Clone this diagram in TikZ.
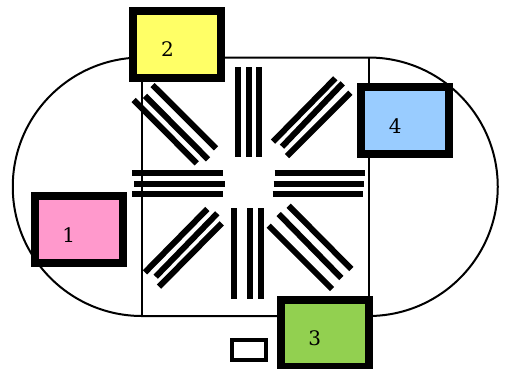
\documentclass[tikz,border=0pt]{standalone}
\usepackage{fontspec}
\setmainfont{DejaVu Serif}
\definecolor{cpink}{HTML}{FF99CC}
\definecolor{cyellow}{HTML}{FFFF66}
\definecolor{cgreen}{HTML}{92D050}
\definecolor{cblue}{HTML}{99CCFF}
\tikzset{
  track/.style={draw=black,line width=2pt},
  bar/.style={draw=black,line width=6pt},
  station/.style={draw=black,line width=8pt,minimum width=88pt,minimum height=67pt,inner sep=0pt,outer sep=0pt},
  num/.style={font=\fontsize{20}{20}\selectfont,inner sep=0pt},
  slot/.style={draw=black,fill=white,line width=3.7pt,inner sep=0pt,outer sep=0pt}
}
\begin{document}
\begin{tikzpicture}[x=1pt,y=-1pt]
\useasboundingbox (0,0) rectangle (505,368);
\clip (0,0) rectangle (505,368);
% track
\draw[track] (142,57.5) -- (368.5,57.5) arc[start angle=-90,end angle=90,radius=129.25] -- (142,316) arc[start angle=90,end angle=270,radius=129.25] -- cycle;
\draw[track] (142,57.5) -- (142,316);
\draw[track] (368.5,57.5) -- (368.5,316);
% top
\draw[bar] (237.7,67) -- (237.7,157);
\draw[bar] (248.8,67) -- (248.8,157);
\draw[bar] (259,67) -- (259,157);
% bottom
\draw[bar] (233.7,208.3) -- (233.7,299);
\draw[bar] (249.7,208.3) -- (249.7,299);
\draw[bar] (261.3,208.3) -- (261.3,299);
% left
\draw[bar] (132.3,172.5) -- (223,172.5);
\draw[bar] (134,183.7) -- (225,183.7);
\draw[bar] (132.3,194.3) -- (223,194.3);
% right
\draw[bar] (274.7,172.5) -- (365.3,172.5);
\draw[bar] (273.7,183.7) -- (364.3,183.7);
\draw[bar] (272.7,194.3) -- (363.3,194.3);
% top-left
\draw[bar] (152.5,85) -- (216,148.3);
\draw[bar] (145,95.8) -- (208,159.3);
\draw[bar] (133.7,100) -- (196.7,163.3);
% top-right
\draw[bar] (335.3,78.3) -- (273,141.7);
\draw[bar] (342.7,83.3) -- (282,146.7);
\draw[bar] (350.3,92.7) -- (287,156);
% bottom-left
\draw[bar] (207.3,209) -- (145,272.3);
\draw[bar] (217.3,213.3) -- (155.7,276.7);
\draw[bar] (221.7,223.3) -- (159,286.7);
% bottom-right
\draw[bar] (288.7,205.7) -- (351.3,269);
\draw[bar] (278.7,214) -- (341.3,278);
\draw[bar] (268.7,225.7) -- (332,289);
% stations
\node[station,fill=cpink] (s1) at (79,229.5) {};
\node[station,fill=cyellow] (s2) at (177,44.2) {};
\node[station,fill=cgreen] (s3) at (324.5,333.5) {};
\node[station,fill=cblue] (s4) at (405,120.5) {};
\node[num] (n1) at (68.7,234.7) {1};
\node[num] (n2) at (167.5,49.5) {2};
\node[num] (n3) at (314.7,338) {3};
\node[num] (n4) at (395.3,126) {4};
\node[slot,minimum width=34pt,minimum height=19.6pt] (s0) at (248.8,350) {};
\end{tikzpicture}
\end{document}
